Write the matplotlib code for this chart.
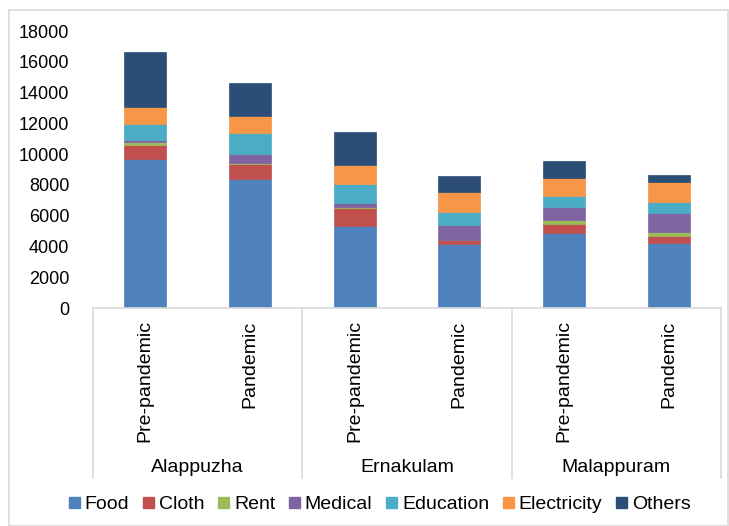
import matplotlib.pyplot as plt
from matplotlib.lines import Line2D
from matplotlib.patches import Rectangle
import numpy as np

plt.rcParams['font.family'] = ['Liberation Sans', 'DejaVu Sans']

districts = ["Alappuzha", "Ernakulam", "Malappuram"]
periods = ["Pre-pandemic", "Pandemic"]
categories = ["Food", "Cloth", "Rent", "Medical", "Education", "Electricity", "Others"]
colors = ["#4F81BD", "#C0504D", "#9BBB59", "#8064A2", "#4BACC6", "#F79646", "#2C4D75"]

# one value per bar: Alappuzha pre, pan, Ernakulam pre, pan, Malappuram pre, pan
food = [9700, 8400, 5300, 4150, 4850, 4200]
cloth = [900, 930, 1230, 260, 580, 470]
rent = [200, 85, 65, 30, 300, 260]
medical = [130, 610, 260, 960, 840, 1230]
education = [1040, 1335, 1210, 870, 730, 760]
electricity = [1080, 1150, 1230, 1270, 1170, 1300]
others = [3560, 2120, 2160, 1020, 1100, 430]

series = [food, cloth, rent, medical, education, electricity, others]

fig = plt.figure(figsize=(7.29, 5.26), dpi=100)
ax = fig.add_axes([0.1276, 0.4144, 0.8614, 0.5266])

x = np.arange(len(food))
bottom = np.zeros(len(food))
for name, vals, col in zip(categories, series, colors):
    ax.bar(x, vals, width=0.4, bottom=bottom, color=col, label=name,
           edgecolor=col, linewidth=0.5)
    bottom += np.array(vals)

ax.set_xlim(-0.5, len(food) - 0.5)
ax.set_ylim(0, 18000)
ax.set_yticks(range(0, 18001, 2000))
ax.tick_params(axis='y', length=0, labelsize=13, pad=17)
ax.set_xticks([])
for s in ["top", "right", "left"]:
    ax.spines[s].set_visible(False)
ax.spines["bottom"].set_color("#D9D9D9")
ax.spines["bottom"].set_linewidth(1.2)

# two-level category axis
trans = ax.get_xaxis_transform()
for i in x:
    ax.text(i, -0.045, periods[i % 2], rotation=90, ha='center', va='top',
            fontsize=14, transform=trans)
for j, d in enumerate(districts):
    ax.text(2 * j + 0.5, -0.575, d, ha='center', va='center',
            fontsize=14, transform=trans)
for b in [-0.5, 1.5, 3.5, 5.5]:
    ax.add_line(Line2D([b, b], [0, -0.615], transform=trans, color="#D9D9D9",
                       lw=1.2, clip_on=False))

# outer frame
fig.patches.append(Rectangle((0.012, 0.0), 0.986, 0.981, transform=fig.transFigure,
                             fill=False, edgecolor="#D9D9D9", lw=1.2))

handles = [Rectangle((0, 0), 1, 1, color=c) for c in colors]
fig.legend(handles, categories, loc='center', bbox_to_anchor=(0.521, 0.04), ncol=7,
           frameon=False, fontsize=14, handlelength=0.55, handleheight=0.55,
           handletextpad=0.25, columnspacing=0.72)

fig.savefig("out.png", dpi=100)
